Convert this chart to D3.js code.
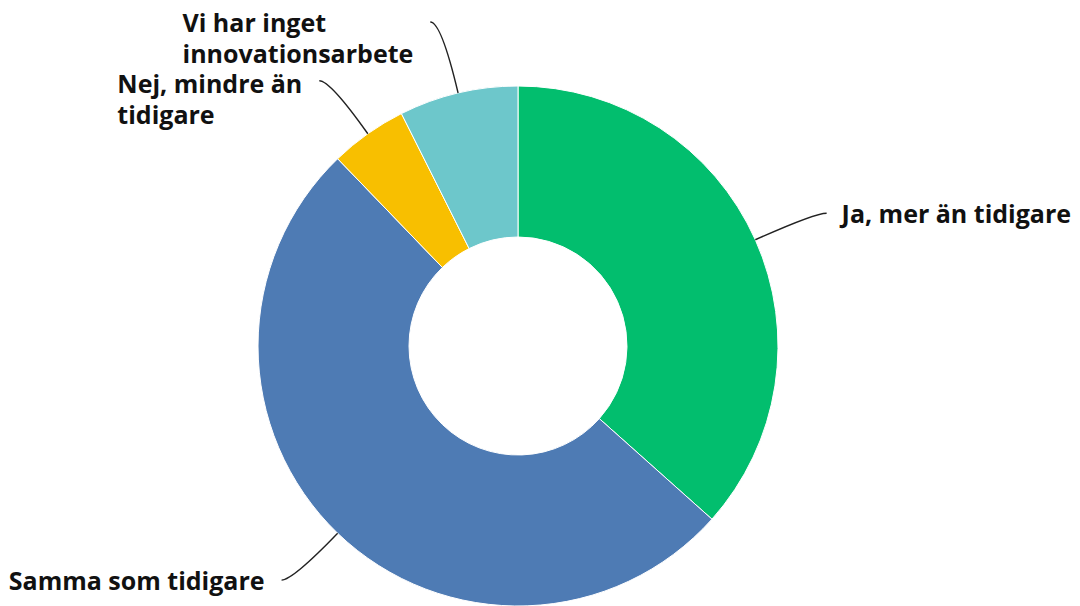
<!DOCTYPE html>
<html>
<head>
<meta charset="utf-8">
<script src="https://cdn.jsdelivr.net/npm/d3@7"></script>
<style>
  body { margin: 0; background: #fff; }
  text { font-family: "Open Sans", Lato, sans-serif; font-weight: 700; fill: #111; }
</style>
</head>
<body>
<div id="chart"></div>
<script>
var categories = ["Ja, mer än tidigare", "Samma som tidigare", "Nej, mindre än tidigare", "Vi har inget innovationsarbete"];
var labelLines = [["Ja, mer än tidigare"], ["Samma som tidigare"], ["Nej, mindre än", "tidigare"], ["Vi har inget", "innovationsarbete"]];
var values = [36.6, 51.2, 4.8, 7.4];
var colors = ["#02be6e", "#4e7bb4", "#f8bf00", "#6dc7cb"];

var width = 1080,
    height = 606,
    cx = 518,
    cy = 346,
    outerR = 260,
    innerR = 109,
    elbowR = [325, 325, 325, 333],
    labelDy = [10, 10, 12, 10],
    fontSize = 25,
    lineH = 31;

var data = categories.map(function(c, i) {
  return { name: c, value: values[i], lines: labelLines[i], color: colors[i] };
});

var svg = d3.select("#chart").append("svg")
  .attr("width", width)
  .attr("height", height);

var g = svg.append("g").attr("transform", "translate(" + cx + "," + cy + ")");

var pie = d3.pie().sort(null).value(function(d) { return d.value; });
var arc = d3.arc().innerRadius(innerR).outerRadius(outerR);

var arcs = pie(data);

g.selectAll(".slice")
  .data(arcs)
  .enter()
  .append("path")
  .attr("class", "slice")
  .attr("d", arc)
  .attr("fill", function(d) { return d.data.color; })
  .attr("stroke", "#fff")
  .attr("stroke-width", 1);

var pt = function(a, r) { return [r * Math.sin(a), -r * Math.cos(a)]; };

arcs.forEach(function(d, i) {
  var mid = (d.startAngle + d.endAngle) / 2;
  var right = Math.sin(mid) > 0;
  var s = pt(mid, outerR),
      e = pt(mid, elbowR[i]),
      end = [e[0] + (right ? 12 : -11), e[1]];

  g.append("path")
    .attr("d", "M" + s[0] + "," + s[1] + "Q" + e[0] + "," + e[1] + " " + end[0] + "," + end[1])
    .attr("fill", "none")
    .attr("stroke", "#222")
    .attr("stroke-width", 1.4);

  var t = g.append("text").attr("font-size", fontSize);
  t.selectAll("tspan")
    .data(d.data.lines)
    .enter()
    .append("tspan")
    .text(function(l) { return l; });

  // left-aligned block, placed beside the leader end
  var w = d3.max(t.selectAll("tspan").nodes(), function(n) { return n.getComputedTextLength(); });
  var x0 = right ? end[0] + 15 : end[0] - 17 - w;
  var y0 = end[1] + labelDy[i];
  t.selectAll("tspan")
    .attr("x", x0)
    .attr("y", function(l, k) { return y0 + k * lineH; });
});
</script>
</body>
</html>
